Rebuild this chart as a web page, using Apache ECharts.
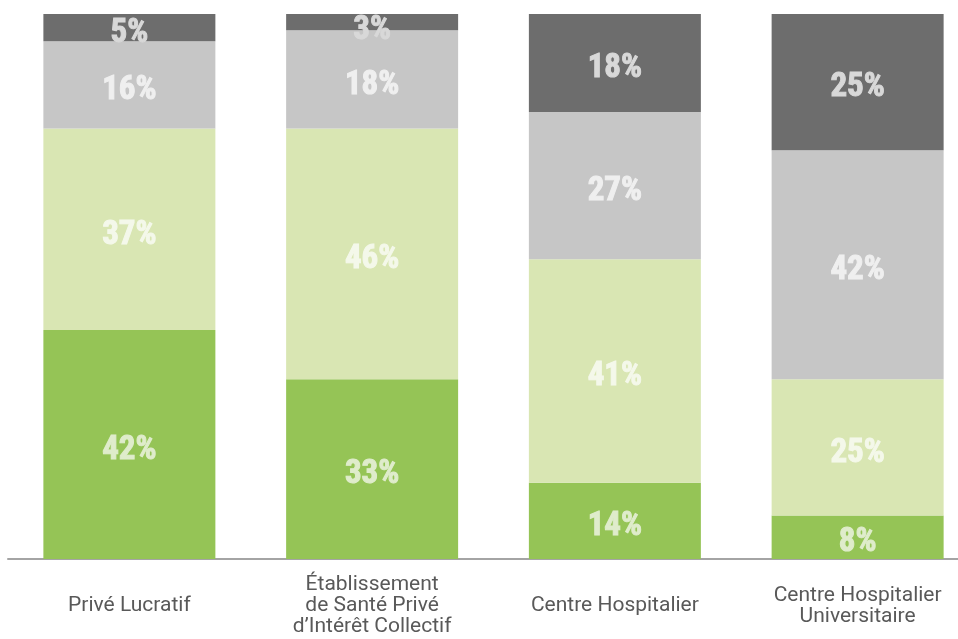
<!DOCTYPE html>
<html>
<head>
<meta charset="utf-8">
<style>
html,body{margin:0;padding:0;background:#fff;}
#chart{width:958px;height:639px;}
</style>
<script src="https://cdn.jsdelivr.net/npm/echarts@6/dist/echarts.min.js"></script>
</head>
<body>
<div id="chart"></div>
<script>
var categories = ["Privé Lucratif", "Établissement\nde Santé Privé\nd’Intérêt Collectif", "Centre Hospitalier", "Centre Hospitalier\nUniversitaire"];
var seriesGreen = [42, 33, 14, 8];
var seriesLightGreen = [37, 46, 41, 25];
var seriesLightGray = [16, 18, 27, 42];
var seriesDarkGray = [5, 3, 18, 25];
var colors = ["#95c456", "#d9e6b3", "#c6c6c6", "#6d6d6d"];
var labelColors = ["#dfeccb", "#f4f8ea", "#efefef", "#d8d8d8"];

var chart = echarts.init(document.getElementById('chart'), null, {renderer: 'canvas'});

function mkSeries(name, data, color, labelColor) {
  return {
    name: name,
    type: 'bar',
    stack: 'total',
    barWidth: 172,
    data: data.map(function (v) {
      var item = {value: v};
      if (v < 5) { item.label = {offset: [0, 9]}; }
      return item;
    }),
    itemStyle: {color: color},
    label: {
      show: true,
      position: 'inside',
      offset: [0, 6],
      formatter: '{c}%',
      color: labelColor,
      textBorderColor: labelColor,
      textBorderWidth: 1,
      fontFamily: '"Liberation Sans Narrow", "Arial Narrow", "Roboto Condensed", Arial, sans-serif',
      fontWeight: 'bold',
      fontSize: 33
    }
  };
}

chart.setOption({
  animation: false,
  grid: {left: 8, width: 971, top: 14, bottom: 80, containLabel: false, outerBoundsMode: 'none'},
  xAxis: {
    type: 'category',
    data: categories,
    axisLine: {show: true, lineStyle: {color: '#a4a4a4', width: 2}},
    axisTick: {show: false},
    axisLabel: {
      interval: 0,
      color: '#595959',
      fontFamily: 'Roboto, "Open Sans", sans-serif',
      fontSize: 21,
      lineHeight: 21,
      verticalAlign: 'middle',
      margin: 47
    }
  },
  yAxis: {
    type: 'value',
    min: 0,
    max: 100,
    show: false,
    splitLine: {show: false}
  },
  series: [
    mkSeries('A', seriesGreen, colors[0], labelColors[0]),
    mkSeries('B', seriesLightGreen, colors[1], labelColors[1]),
    mkSeries('C', seriesLightGray, colors[2], labelColors[2]),
    mkSeries('D', seriesDarkGray, colors[3], labelColors[3])
  ]
});
</script>
</body>
</html>
